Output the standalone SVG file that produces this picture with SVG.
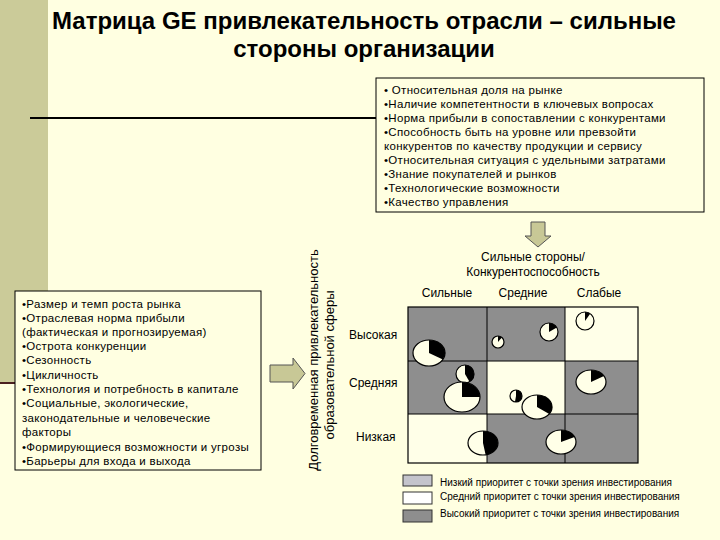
<svg xmlns="http://www.w3.org/2000/svg" width="720" height="540" viewBox="0 0 720 540">
<defs>
<style>
text{font-family:"Liberation Sans",Arial,sans-serif;fill:#000}
.title{font-size:24px;font-weight:bold;text-anchor:middle}
.t11{font-size:11.5px;letter-spacing:0.3px}
.t115{font-size:11.5px;letter-spacing:0.3px}
.t12{font-size:12px}
.t13{font-size:13px}
.mid{text-anchor:middle}
.leg{font-size:10px}
.box{fill:#FFFFE1;stroke:#000;stroke-width:1}
.cg{fill:#8E8E8E;stroke:none}
.cc{fill:#FFFFE8;stroke:none}
.pie{fill:#FFFFE8;stroke:#000;stroke-width:1.2}
.sec{fill:#000}
.arrow{fill:#C8C896;stroke:#555;stroke-width:1}
</style>
</defs>
<rect width="720" height="540" fill="#FFFFE1"/>
<rect x="0" y="0" width="48" height="383" fill="#CBCB99"/>
<line x1="0" y1="383" x2="15" y2="383" stroke="#4a1f1f" stroke-width="2"/>

<g id="title">
<text class="title" x="364" y="29">Матрица GE привлекательность отрасли – сильные</text>
<text class="title" x="364" y="57">стороны организации</text>
</g>

<g id="connectors">
<line x1="30" y1="118" x2="376" y2="118" stroke="#000" stroke-width="1.8"/>
<path class="arrow" d="M531,222 H545 V236 H551 L538,247 L525,236 H531 Z"/>
<path class="arrow" d="M270,365 H293 V358 L305,373.5 L293,389 V382 H270 Z"/>
</g>

<g id="strengths-box">
<rect class="box" x="376" y="78" width="328" height="134"/>
<g class="t11">
<text x="384" y="94">• Относительная доля на рынке</text>
<text x="384" y="108">•Наличие компетентности в ключевых вопросах</text>
<text x="384" y="122">•Норма прибыли в сопоставлении с конкурентами</text>
<text x="384" y="136">•Способность быть на уровне или превзойти</text>
<text x="384" y="150">конкурентов по качеству продукции и сервису</text>
<text x="384" y="164">•Относительная ситуация с удельными затратами</text>
<text x="384" y="178">•Знание покупателей и рынков</text>
<text x="384" y="192">•Технологические возможности</text>
<text x="384" y="206">•Качество управления</text>
</g>
</g>

<g id="attractiveness-box">
<rect class="box" x="15" y="291" width="246" height="179"/>
<g class="t115">
<text x="22" y="307.5">•Размер и темп роста рынка</text>
<text x="22" y="321.5">•Отраслевая норма прибыли</text>
<text x="22" y="335.5">(фактическая и прогнозируемая)</text>
<text x="22" y="349.5">•Острота конкуренции</text>
<text x="22" y="364">•Сезонность</text>
<text x="22" y="378.5">•Цикличность</text>
<text x="22" y="392.5">•Технология и потребность в капитале</text>
<text x="22" y="407">•Социальные, экологические,</text>
<text x="22" y="421.5">законодательные и человеческие</text>
<text x="22" y="436">факторы</text>
<text x="22" y="450.5">•Формирующиеся возможности и угрозы</text>
<text x="22" y="465">•Барьеры для входа и выхода</text>
</g>
</g>

<g id="y-axis-label">
<text class="t13 mid" transform="translate(318,360) rotate(-90)">Долговременная привлекательность</text>
<text class="t13 mid" transform="translate(334,365) rotate(-90)">образовательной сферы</text>
</g>

<g id="x-axis-label">
<text class="t12 mid" x="533" y="261">Сильные стороны/</text>
<text class="t12 mid" x="533" y="276">Конкурентоспособность</text>
<text class="t12 mid" x="447" y="297">Сильные</text>
<text class="t12 mid" x="523" y="297">Средние</text>
<text class="t12 mid" x="599" y="297">Слабые</text>
</g>

<g id="row-labels">
<text class="t12" x="349" y="339">Высокая</text>
<text class="t12" x="349" y="387">Средняя</text>
<text class="t12" x="356" y="441">Низкая</text>
</g>

<g id="matrix">
<rect class="cg" x="408" y="307" width="79" height="54"/>
<rect class="cg" x="487" y="307" width="78" height="54"/>
<rect class="cc" x="565" y="307" width="73" height="54"/>
<rect class="cg" x="408" y="361" width="79" height="53"/>
<rect class="cc" x="487" y="361" width="78" height="53"/>
<rect class="cg" x="565" y="361" width="73" height="53"/>
<rect class="cc" x="408" y="414" width="79" height="49"/>
<rect class="cg" x="487" y="414" width="78" height="49"/>
<rect class="cg" x="565" y="414" width="73" height="49"/>
<rect x="408" y="307" width="230" height="156" fill="none" stroke="#000" stroke-width="1.2"/>
<line x1="487" y1="307" x2="487" y2="463" stroke="#000" stroke-width="1"/>
<line x1="565" y1="307" x2="565" y2="463" stroke="#000" stroke-width="1"/>
<line x1="408" y1="361" x2="638" y2="361" stroke="#000" stroke-width="1"/>
<line x1="408" y1="414" x2="638" y2="414" stroke="#000" stroke-width="1"/>
</g>

<g id="pies">
<g id="pie1"><ellipse class="pie" cx="429" cy="353" rx="16" ry="13"/><path class="sec" d="M429,353 L429,340 A16,13 0 0 1 442.86,359.5 Z"/></g>
<g id="pie2"><ellipse class="pie" cx="498" cy="342" rx="6" ry="6"/><path class="sec" d="M498,342 L498,336 A6,6 0 0 1 501.86,337.4 Z"/></g>
<g id="pie3"><ellipse class="pie" cx="549" cy="332" rx="9" ry="9"/><path class="sec" d="M549,332 L549,323 A9,9 0 0 1 556.79,327.5 Z"/></g>
<g id="pie4"><ellipse class="pie" cx="585" cy="321" rx="9" ry="9"/><path class="sec" d="M585,321 L585,312 A9,9 0 0 1 590.16,313.63 Z"/></g>
<g id="pie5"><ellipse class="pie" cx="465" cy="374" rx="9" ry="9"/><path class="sec" d="M465,374 L465,365 A9,9 0 0 1 469.5,381.79 Z"/></g>
<g id="pie6"><ellipse class="pie" cx="462" cy="397" rx="18" ry="15"/><path class="sec" d="M462,397 L462,382 A18,15 0 0 1 480,397 Z"/></g>
<g id="pie7"><ellipse class="pie" cx="516" cy="396" rx="6" ry="6"/><path class="sec" d="M516,396 L516,390 A6,6 0 1 1 514.96,401.91 Z"/></g>
<g id="pie8"><ellipse class="pie" cx="537" cy="407" rx="15" ry="12"/><path class="sec" d="M537,407 L537,395 A15,12 0 0 1 549.29,413.88 Z"/></g>
<g id="pie9"><ellipse class="pie" cx="591" cy="382" rx="15" ry="12"/><path class="sec" d="M591,382 L591,370 A15,12 0 0 1 603.99,376 Z"/></g>
<g id="pie10"><ellipse class="pie" cx="483" cy="443" rx="15" ry="12"/><path class="sec" d="M483,443 L483,431 A15,12 0 0 1 485.6,454.82 Z"/></g>
<g id="pie11"><ellipse class="pie" cx="561" cy="442" rx="15" ry="12"/><path class="sec" d="M561,442 L561,430 A15,12 0 0 1 574.59,436.92 Z"/></g>
</g>

<g id="legend">
<rect x="403" y="475" width="29" height="11" fill="#C4C4CC" stroke="#333" stroke-width="1"/>
<rect x="403" y="492" width="29" height="12" fill="#FFFFFF" stroke="#333" stroke-width="1"/>
<rect x="403" y="510" width="29" height="12" fill="#8E8E8E" stroke="#333" stroke-width="1"/>
<text class="leg" x="440" y="486">Низкий приоритет с точки зрения инвестирования</text>
<text class="leg" x="440" y="500">Средний приоритет с точки зрения инвестирования</text>
<text class="leg" x="440" y="517">Высокий приоритет с точки зрения инвестирования</text>
</g>
</svg>
